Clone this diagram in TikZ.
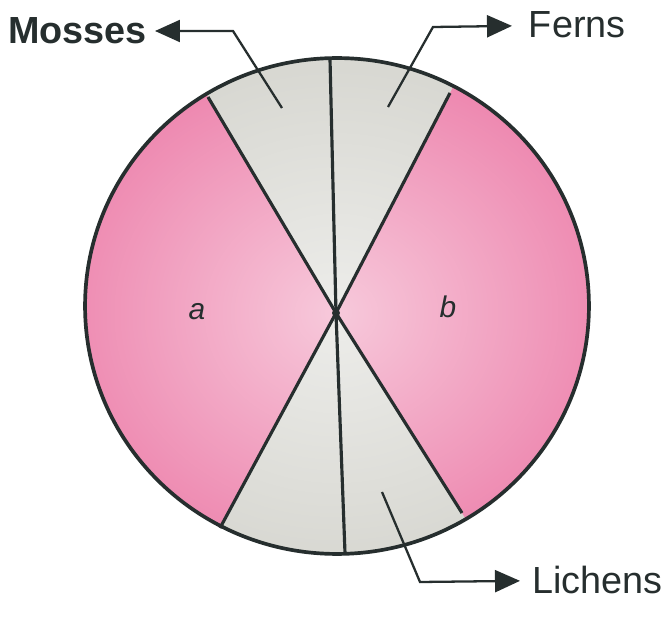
\documentclass[tikz,border=0pt]{standalone}
\usepackage{fontspec}
\setmainfont{Liberation Sans}
\usetikzlibrary{arrows.meta,fadings,calc}
\definecolor{pinkseg}{RGB}{238,136,176}
\definecolor{grayseg}{RGB}{216,216,210}
\definecolor{ink}{RGB}{38,46,46}
\tikzfading[name=glow, inner color=transparent!45, outer color=transparent!100]
\tikzset{
  seg/.style={draw=ink, line width=1.8pt},
  rim/.style={draw=ink, line width=2.1pt},
  ptr/.style={draw=ink, line width=1.3pt, -{Triangle[length=0.5cm,width=0.44cm]}},
  lbl/.style={inner sep=0pt, text=ink, font=\fontsize{21.5}{26}\selectfont},
  sector/.style={inner sep=0pt, text=ink, font=\fontsize{17}{20}\selectfont\itshape}
}
\begin{document}
\begin{tikzpicture}[x=0.02cm,y=-0.02cm]
\useasboundingbox (0,0) rectangle (667,618);
\coordinate (C) at (337,306);
\coordinate (O) at (336,313);
\coordinate (TL) at (208,97);
\coordinate (TR) at (450,93);
\coordinate (TV) at (330,59);
\coordinate (BL) at (220,528);
\coordinate (BR) at (462,513);
\coordinate (BV) at (345,553);
\begin{scope}
  \clip (C) ellipse [x radius=5.04cm, y radius=4.96cm];
  \fill[grayseg] (C) ellipse [x radius=5.04cm, y radius=4.96cm];
  \fill[pinkseg] (O) -- ($(O)!2!(TL)$) -- (-200,-150) -- (-200,760) -- ($(O)!2!(BL)$) -- cycle;
  \fill[pinkseg] (O) -- ($(O)!2!(TR)$) -- (900,-150) -- (900,760) -- ($(O)!2!(BR)$) -- cycle;
  \fill[white, path fading=glow] (O) ellipse [x radius=5.6cm, y radius=5.0cm];
\end{scope}
\draw[seg] (O) -- (TL);
\draw[seg] (O) -- (TR);
\draw[seg] (O) -- (TV);
\draw[seg] (O) -- (BL);
\draw[seg] (O) -- (BR);
\draw[seg] (O) -- (BV);
\draw[rim] (C) ellipse [x radius=5.04cm, y radius=4.96cm];
\fill[ink] (O) circle (0.08cm);
\node[sector] (a) at (197,312) {a};
\node[sector] (b) at (448,307) {b};
\node[lbl, font=\fontsize{21.5}{26}\selectfont\bfseries, anchor=east, outer sep=0.16cm] (mosses) at (155,31) {Mosses};
\node[lbl, anchor=west, outer sep=0.34cm] (ferns) at (512,25) {Ferns};
\node[lbl, anchor=west, outer sep=0.24cm] (lichens) at (520,580) {Lichens};
\coordinate (mIn) at (282,108);
\coordinate (mBend) at (233,31);
\coordinate (fIn) at (388,107);
\coordinate (fBend) at (433,27);
\coordinate (lIn) at (382,492);
\coordinate (lBend) at (420,582);
\draw[ptr] (mIn) -- (mBend) -- (mosses);
\draw[ptr] (fIn) -- (fBend) -- (ferns);
\draw[ptr] (lIn) -- (lBend) -- (lichens);
\end{tikzpicture}
\end{document}
